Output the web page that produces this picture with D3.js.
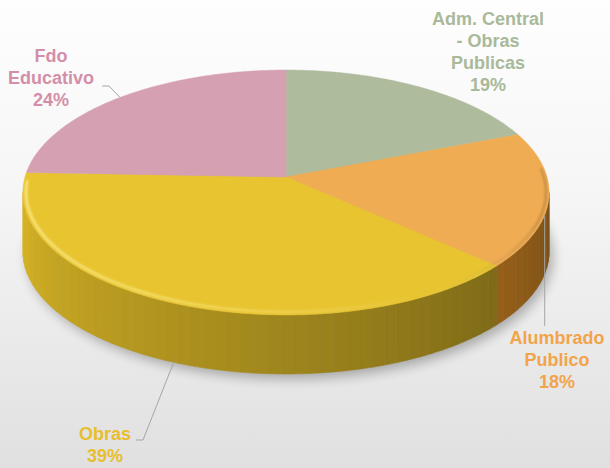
<!DOCTYPE html>
<meta charset="utf-8">
<style>
  body { margin: 0; }
  text { font-family: "Liberation Sans", Arial, sans-serif; font-weight: bold; font-size: 18px; }
</style>
<body>
<script src="https://cdn.jsdelivr.net/npm/d3@7"></script>
<script>

// Chart data
var categories = ["Adm. Central - Obras Publicas", "Alumbrado Publico", "Obras", "Fdo Educativo"];
var labelLines = [["Adm. Central", "- Obras", "Publicas"], ["Alumbrado", "Publico"], ["Obras"], ["Fdo", "Educativo"]];
var values = [19.0, 17.8, 38.8, 24.4];
var topColors = ["#aebc9d", "#f0ac53", "#e8c430", "#d6a0b3"];
var labelColors = ["#a9b999", "#f2a44a", "#e8be2c", "#d38fa9"];

var width = 610,
    height = 468;

// pie geometry (perspective tilt)
var cx = 286, cy = 177,
    rx = 261, ry = 120.5,
    k = -0.1265,        // perspective factor
    depth = 59;

var xs = d3.scaleLinear().domain([-1, 1]).range([cx - rx, cx + rx]),
    ys = d3.scaleLinear().domain([-1, 1]).range([cy - ry, cy + ry]);

// angle (0 = 12 o'clock, clockwise) -> screen point
function proj(a, dz) {
  var u = Math.sin(a), v = -Math.cos(a), w = 1 + k * v;
  return [xs(u / w), ys(v / w) + (dz || 0)];
}

var svg = d3.select("body").append("svg")
    .attr("width", width)
    .attr("height", height);

var defs = svg.append("defs");

var bg = defs.append("linearGradient").attr("id", "bg")
    .attr("x1", 0).attr("y1", 0).attr("x2", 0).attr("y2", 1);
bg.append("stop").attr("offset", "0%").attr("stop-color", "#fefefe");
bg.append("stop").attr("offset", "40%").attr("stop-color", "#f6f6f6");
bg.append("stop").attr("offset", "100%").attr("stop-color", "#e0e0e0");

defs.append("filter").attr("id", "blur")
    .attr("x", "-20%").attr("y", "-20%").attr("width", "140%").attr("height", "140%")
  .append("feGaussianBlur").attr("stdDeviation", 6);

defs.append("filter").attr("id", "soft")
    .attr("x", "-5%").attr("y", "-5%").attr("width", "110%").attr("height", "110%")
  .append("feGaussianBlur").attr("stdDeviation", 0.9);

var rim = defs.append("linearGradient").attr("id", "rim")
    .attr("gradientUnits", "userSpaceOnUse")
    .attr("x1", cx - rx).attr("y1", 0).attr("x2", cx + rx).attr("y2", 0);
rim.append("stop").attr("offset", "0%").attr("stop-color", "#fff4a0").attr("stop-opacity", 0.75);
rim.append("stop").attr("offset", "50%").attr("stop-color", "#fff3a0").attr("stop-opacity", 0.3);
rim.append("stop").attr("offset", "75%").attr("stop-color", "#fff").attr("stop-opacity", 0);
rim.append("stop").attr("offset", "100%").attr("stop-color", "#000").attr("stop-opacity", 0.18);

svg.append("rect")
    .attr("width", width)
    .attr("height", height)
    .attr("fill", "url(#bg)");

var line = d3.line();
var TAU = Math.PI * 2;

var arcs = d3.pie().sort(null).value(function(d) { return d; })(values);

function arcPoints(a0, a1, dz) {
  var n = Math.max(2, Math.ceil((a1 - a0) / 0.01));
  return d3.range(n + 1).map(function(i) { return proj(a0 + (a1 - a0) * i / n, dz); });
}

// shadow under the pie
svg.append("path")
    .attr("d", line(arcPoints(0, TAU, depth)) + "Z")
    .attr("transform", "translate(4,5)")
    .attr("fill", "#000")
    .attr("opacity", 0.28)
    .attr("filter", "url(#blur)");

// visible front wall range
var frontA0 = Math.acos(k),
    frontA1 = TAU - Math.acos(k);

function shade(color, f) {
  var c = d3.hsl(color);
  c.l = c.l * f;
  c.s = c.s * (0.8 + 0.1 * f);
  return c + "";
}

var walls = svg.append("g");
arcs.forEach(function(d, i) {
  var a0 = Math.max(d.startAngle, frontA0),
      a1 = Math.min(d.endAngle, frontA1);
  if (a1 <= a0) return;
  var n = Math.ceil((a1 - a0) / 0.045);
  d3.range(n).forEach(function(j) {
    var t0 = a0 + (a1 - a0) * j / n,
        t1 = a0 + (a1 - a0) * (j + 1) / n,
        mid = (t0 + t1) / 2;
    var c = shade(topColors[i], 0.44 + 0.46 * (mid - frontA0) / (frontA1 - frontA0));
    var pts = arcPoints(t0, t1, 0).concat(arcPoints(t0, t1, depth).reverse());
    walls.append("path")
        .attr("d", line(pts) + "Z")
        .attr("fill", c)
        .attr("stroke", c)
        .attr("stroke-width", 0.6);
  });
});

// top faces
svg.append("g").selectAll("path")
  .data(arcs)
  .enter().append("path")
    .attr("d", function(d) {
      return line([[cx, cy]].concat(arcPoints(d.startAngle, d.endAngle, 0))) + "Z";
    })
    .attr("fill", function(d, i) { return topColors[i]; })
    .attr("stroke", function(d, i) { return topColors[i]; })
    .attr("stroke-width", 0.5);

// bevel highlight along front rim
var rimPts = arcPoints(frontA0 - 0.2, frontA1 + 0.1, 0).map(function(p) {
  return [cx + (p[0] - cx) * 0.988, cy + (p[1] - cy) * 0.978];
});
svg.append("path")
    .attr("d", line(rimPts))
    .attr("fill", "none")
    .attr("stroke", "url(#rim)")
    .attr("stroke-width", 2.5)
    .attr("filter", "url(#soft)");

// labels
var labelPos = [[488, 25], [557, 344], [105, 440], [51, 62]];
var lineH = 22;

// leader lines
var leaders = [
  null,
  function(d) { var p = proj((d.startAngle + d.endAngle) / 2, 0); return [[p[0] - 4, p[1] + 16], [p[0] - 4, 326]]; },
  function(d) { var p = proj((d.startAngle + d.endAngle) / 2, depth); return [p, [143, 440], [136, 440]]; },
  function(d) { var p = proj((d.startAngle + d.endAngle) / 2, 0); return [p, [109, 86], [102, 86]]; }
];

arcs.forEach(function(d, i) {
  if (!leaders[i]) return;
  svg.append("path")
      .attr("d", line(leaders[i](d)))
      .attr("fill", "none")
      .attr("stroke", "#a6a6a6")
      .attr("stroke-width", 1);
});

arcs.forEach(function(d, i) {
  var lines = labelLines[i].concat([Math.round(d.value) + "%"]);
  var t = svg.append("text")
      .attr("text-anchor", "middle")
      .attr("fill", labelColors[i]);
  lines.forEach(function(s, j) {
    t.append("tspan")
        .attr("x", labelPos[i][0])
        .attr("y", labelPos[i][1] + j * lineH)
        .text(s);
  });
});

</script>
</body>
